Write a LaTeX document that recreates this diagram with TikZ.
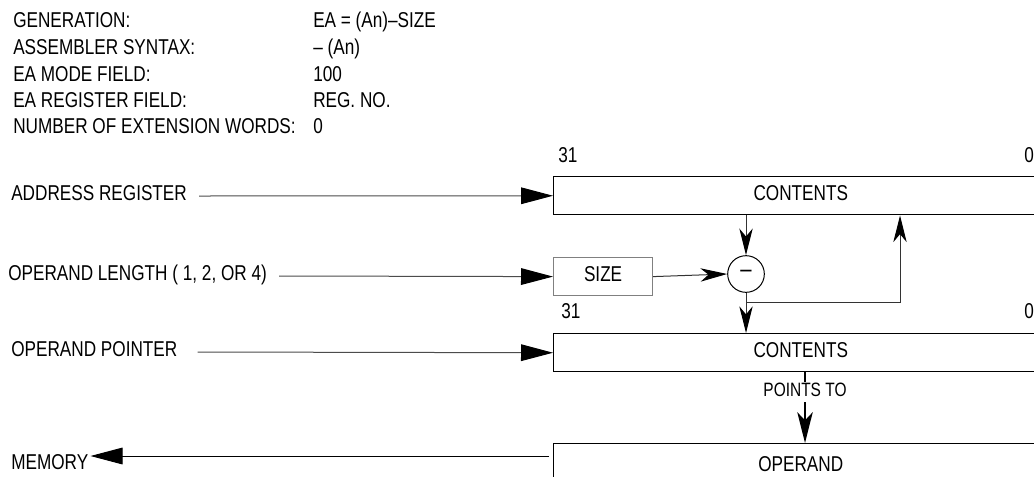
\documentclass[tikz,border=0pt]{standalone}
\usepackage{fontspec}
\setmainfont[FakeStretch=0.8]{Liberation Sans}
\usetikzlibrary{arrows.meta}
\tikzset{
  lbl/.style={inner sep=0pt, text depth=0pt, text height=0.72em, anchor=west},
  regbox/.style={draw=black, line width=1.1pt, anchor=north west, minimum width=370.5pt, minimum height=28.5pt, inner sep=0pt, text depth=0pt, text height=0.72em},
  sizebox/.style={draw=black!50, line width=0.9pt, anchor=north west, minimum width=74.25pt, minimum height=28.5pt, inner sep=0pt, text depth=0pt, text height=0.72em},
  opcircle/.style={draw=black, line width=0.75pt, circle, minimum size=27.5pt, inner sep=0pt, font=\fontsize{19}{20}\selectfont},
  inarrow/.style={draw=black!70, line width=0.75pt, -{Triangle[length=24pt,width=12.5pt,color=black]}},
  midarrow/.style={draw=black!80, line width=0.75pt, -{Stealth[length=20pt,width=10pt,inset=6pt,color=black]}},
  thickline/.style={draw=black, line width=2.2pt},
  thickarrow/.style={thickline, -{Stealth[length=23pt,width=11.5pt,inset=6pt]}},
  smalllbl/.style={font=\fontsize{14.5}{16}\selectfont, inner xsep=1pt, inner ysep=4pt, text depth=0pt, text height=0.72em},
}
\begin{document}
\begin{tikzpicture}[x=0.75pt,y=-0.75pt, font=\fontsize{16.1}{19}\selectfont]
\clip (0,0) rectangle (1034,476);
\fill[white] (0,0) rectangle (1034,476);
% header
\node[lbl] (h1) at (13,23) {GENERATION:};
\node[lbl] (h2) at (13,50) {ASSEMBLER SYNTAX:};
\node[lbl] (h3) at (13,77) {EA MODE FIELD:};
\node[lbl] (h4) at (13,103) {EA REGISTER FIELD:};
\node[lbl] (h5) at (13,129) {NUMBER OF EXTENSION WORDS:};
\node[lbl] (v1) at (313,23) {EA = (An)--SIZE};
\node[lbl] (v2) at (313,50) {-- (An)};
\node[lbl] (v3) at (313,77) {100};
\node[lbl] (v4) at (313,103) {REG. NO.};
\node[lbl] (v5) at (313,129) {0};
% bit labels
\node[lbl] (b31a) at (558,158) {31};
\node[lbl] (b0a) at (1024,158) {0};
\node[lbl] (b31b) at (561,314) {31};
\node[lbl] (b0b) at (1024,314) {0};
% boxes
\node[regbox] (ar) at (553,176) {CONTENTS};
\node[sizebox] (size) at (553,257) {SIZE};
\node[opcircle] (minus) at (746,274) {--};
\node[regbox] (op) at (553,333) {CONTENTS};
\node[regbox, minimum height=34.5pt] (mem) at (553,443) {OPERAND};
% left labels
\node[lbl] (lar) at (11,196) {ADDRESS REGISTER};
\node[lbl] (lol) at (8,276) {OPERAND LENGTH ( 1, 2, OR 4)};
\node[lbl] (lop) at (11,352) {OPERAND POINTER};
\node[lbl] (lmem) at (11,465) {MEMORY};
% input arrows
\draw[inarrow] ([xshift=9pt]lar.east) -- (ar.west);
\draw[inarrow] ([xshift=9pt]lol.east) -- (size.west);
\draw[inarrow] ([xshift=15pt]lop.east) -- (op.west);
% arithmetic
\draw[midarrow] (size.east) -- (minus.west);
\draw[midarrow] (minus |- ar.south) -- (minus.north);
\draw[midarrow] (minus.south) -- (minus |- op.north);
\coordinate (fb1) at (746,302);
\coordinate (fb2) at (900,302);
\draw[midarrow] (fb1) -- (fb2) -- (fb2 |- ar.south);
% points to
\node[smalllbl] (ptl) at (805,392) {POINTS TO};
\draw[thickline] (ptl.north |- op.south) -- (ptl.north);
\draw[thickarrow] (ptl.south) -- (ptl.south |- mem.north);
% memory arrow
\coordinate (m1) at (549,456);
\draw[inarrow, draw=black] (m1) -- ([xshift=1.5pt]lmem.east |- m1);
\end{tikzpicture}
\end{document}
